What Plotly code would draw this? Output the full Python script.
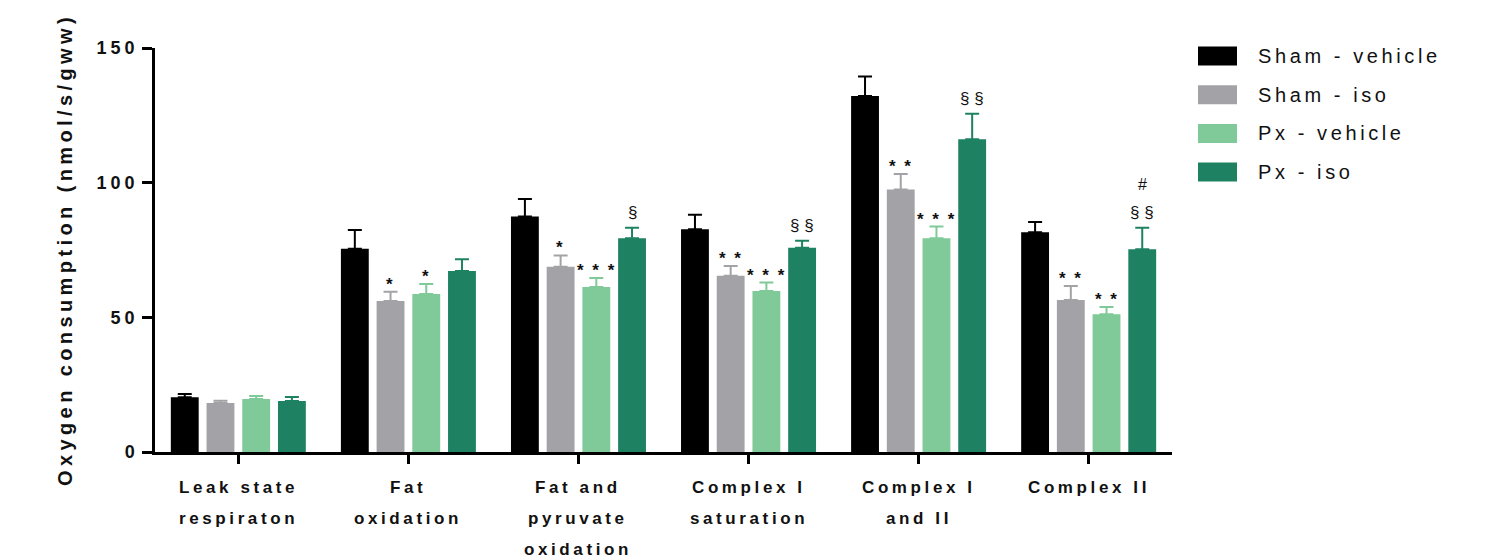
import plotly.graph_objects as go

# ---- data -------------------------------------------------------------
categories = ["Leak state respiraton", "Fat oxidation", "Fat and pyruvate oxidation",
              "Complex I saturation", "Complex I and II", "Complex II"]
category_lines = [["Leak state", "respiraton"], ["Fat", "oxidation"],
                  ["Fat and", "pyruvate", "oxidation"], ["Complex I", "saturation"],
                  ["Complex I", "and II"], ["Complex II"]]

series_names = ["Sham - vehicle", "Sham - iso", "Px - vehicle", "Px - iso"]

sham_vehicle = [20.3, 75.5, 87.4, 82.7, 132.2, 81.6]
sham_vehicle_sem = [1.2, 6.9, 6.5, 5.4, 7.2, 3.8]
sham_iso = [18.2, 56.1, 68.8, 65.4, 97.5, 56.4]
sham_iso_sem = [0.8, 3.4, 4.2, 3.7, 5.7, 5.2]
px_vehicle = [19.7, 58.7, 61.3, 59.8, 79.4, 51.1]
px_vehicle_sem = [1.1, 3.7, 3.3, 3.1, 4.3, 2.7]
px_iso = [18.9, 67.2, 79.4, 75.8, 116.1, 75.3]
px_iso_sem = [1.5, 4.4, 3.9, 2.6, 9.5, 8.0]

# significance marks: * vs sham-vehicle, § vs px-vehicle, # vs sham-iso
sham_iso_marks = ["", "*", "*", "* *", "* *", "* *"]
px_vehicle_marks = ["", "*", "* * *", "* * *", "* * *", "* *"]
px_iso_marks = ["", "", "§", "§ §", "§ §", "§ §"]
px_iso_marks_upper = ["", "", "", "", "", "#"]

y_tick_values = [0, 50, 100, 150]

# ---- styling ----------------------------------------------------------
colors = ["#000000", "#a3a2a7", "#7fca98", "#1e8262"]
FONT = "Liberation Sans, Arial, sans-serif"
BARGAP = 0.16
N_SERIES = 4
SLOT = (1 - BARGAP) / N_SERIES


def spaced(text, px):
    return f'<span style="letter-spacing:{px}px">{text}</span>'


values = [sham_vehicle, sham_iso, px_vehicle, px_iso]
sems = [sham_vehicle_sem, sham_iso_sem, px_vehicle_sem, px_iso_sem]

fig = go.Figure()
for name, vals, sem, col in zip(series_names, values, sems, colors):
    fig.add_trace(go.Bar(
        x=categories, y=vals, name=name, marker=dict(color=col, line=dict(width=0)),
        error_y=dict(type="data", array=sem, arrayminus=[0] * len(sem), symmetric=False,
                     color=col, thickness=2, width=7),
        showlegend=False,
    ))

annotations = []


def add_marks(marks, series_idx, vals, sem, shift, size=17, weight="bold", gap=2):
    for ci, m in enumerate(marks):
        if not m:
            continue
        annotations.append(dict(
            x=ci + (series_idx - (N_SERIES - 1) / 2) * SLOT, xref="x",
            y=vals[ci] + sem[ci], yref="y", yanchor="bottom", yshift=shift,
            text=spaced(m, gap), showarrow=False,
            font=dict(family=FONT, size=size, color="#111111", weight=weight),
        ))


add_marks(sham_iso_marks, 1, sham_iso, sham_iso_sem, -4)
add_marks(px_vehicle_marks, 2, px_vehicle, px_vehicle_sem, -4)
add_marks(px_iso_marks, 3, px_iso, px_iso_sem, 4, size=17, weight="normal", gap=0)
add_marks(px_iso_marks_upper, 3, px_iso, px_iso_sem, 33, size=16, weight="normal", gap=0)

# category labels, one annotation per text line
for ci, lines in enumerate(category_lines):
    for li, line in enumerate(lines):
        annotations.append(dict(
            x=ci, xref="x", y=0, yref="paper", yanchor="middle", yshift=-35 - 31 * li,
            text=spaced(line, 3.6), showarrow=False,
            font=dict(family=FONT, size=17, color="#111111", weight="bold"),
        ))

# y-axis title
annotations.append(dict(
    x=0, xref="paper", xshift=-103, y=0.5, yref="paper", yshift=0, textangle=-90,
    text=spaced("Oxygen consumption (nmol/s/gww)", 4.4), showarrow=False,
    font=dict(family=FONT, size=20, color="#111111", weight="bold"),
))

# legend: wide swatches with spaced labels
shapes = []
LEG_STEP = 38.7
for k, (name, col) in enumerate(zip(series_names, colors)):
    yc = -8 - k * LEG_STEP
    shapes.append(dict(
        type="rect", xref="paper", yref="paper", xsizemode="pixel", ysizemode="pixel",
        xanchor=1, yanchor=1, x0=26, x1=65, y0=yc - 9.5, y1=yc + 9.5,
        fillcolor=col, line=dict(width=0),
    ))
    annotations.append(dict(
        x=1, xref="paper", xanchor="left", xshift=84, y=1, yref="paper", yanchor="middle",
        yshift=yc, text=spaced(name, 3.6), showarrow=False,
        font=dict(family=FONT, size=20, color="#111111"),
    ))

fig.update_layout(
    width=1494, height=558,
    margin=dict(l=155, r=322, t=48, b=106),
    paper_bgcolor="white", plot_bgcolor="white",
    barmode="group", bargap=BARGAP, bargroupgap=0.22,
    annotations=annotations, shapes=shapes,
    xaxis=dict(
        type="category", range=[-0.49, 5.49], showgrid=False, zeroline=False,
        showline=True, linecolor="black", linewidth=2.5,
        ticks="outside", ticklen=9, tickwidth=2.5, tickcolor="black",
        showticklabels=False,
    ),
    yaxis=dict(
        range=[0, 150], showgrid=False, zeroline=False,
        showline=True, linecolor="black", linewidth=2.5,
        ticks="outside", ticklen=10, tickwidth=2.5, tickcolor="black",
        tickvals=y_tick_values, ticktext=[spaced(str(v), 4) for v in y_tick_values],
        tickfont=dict(family=FONT, size=18, color="#111111", weight="bold"),
    ),
)

fig.write_html("out.html")
